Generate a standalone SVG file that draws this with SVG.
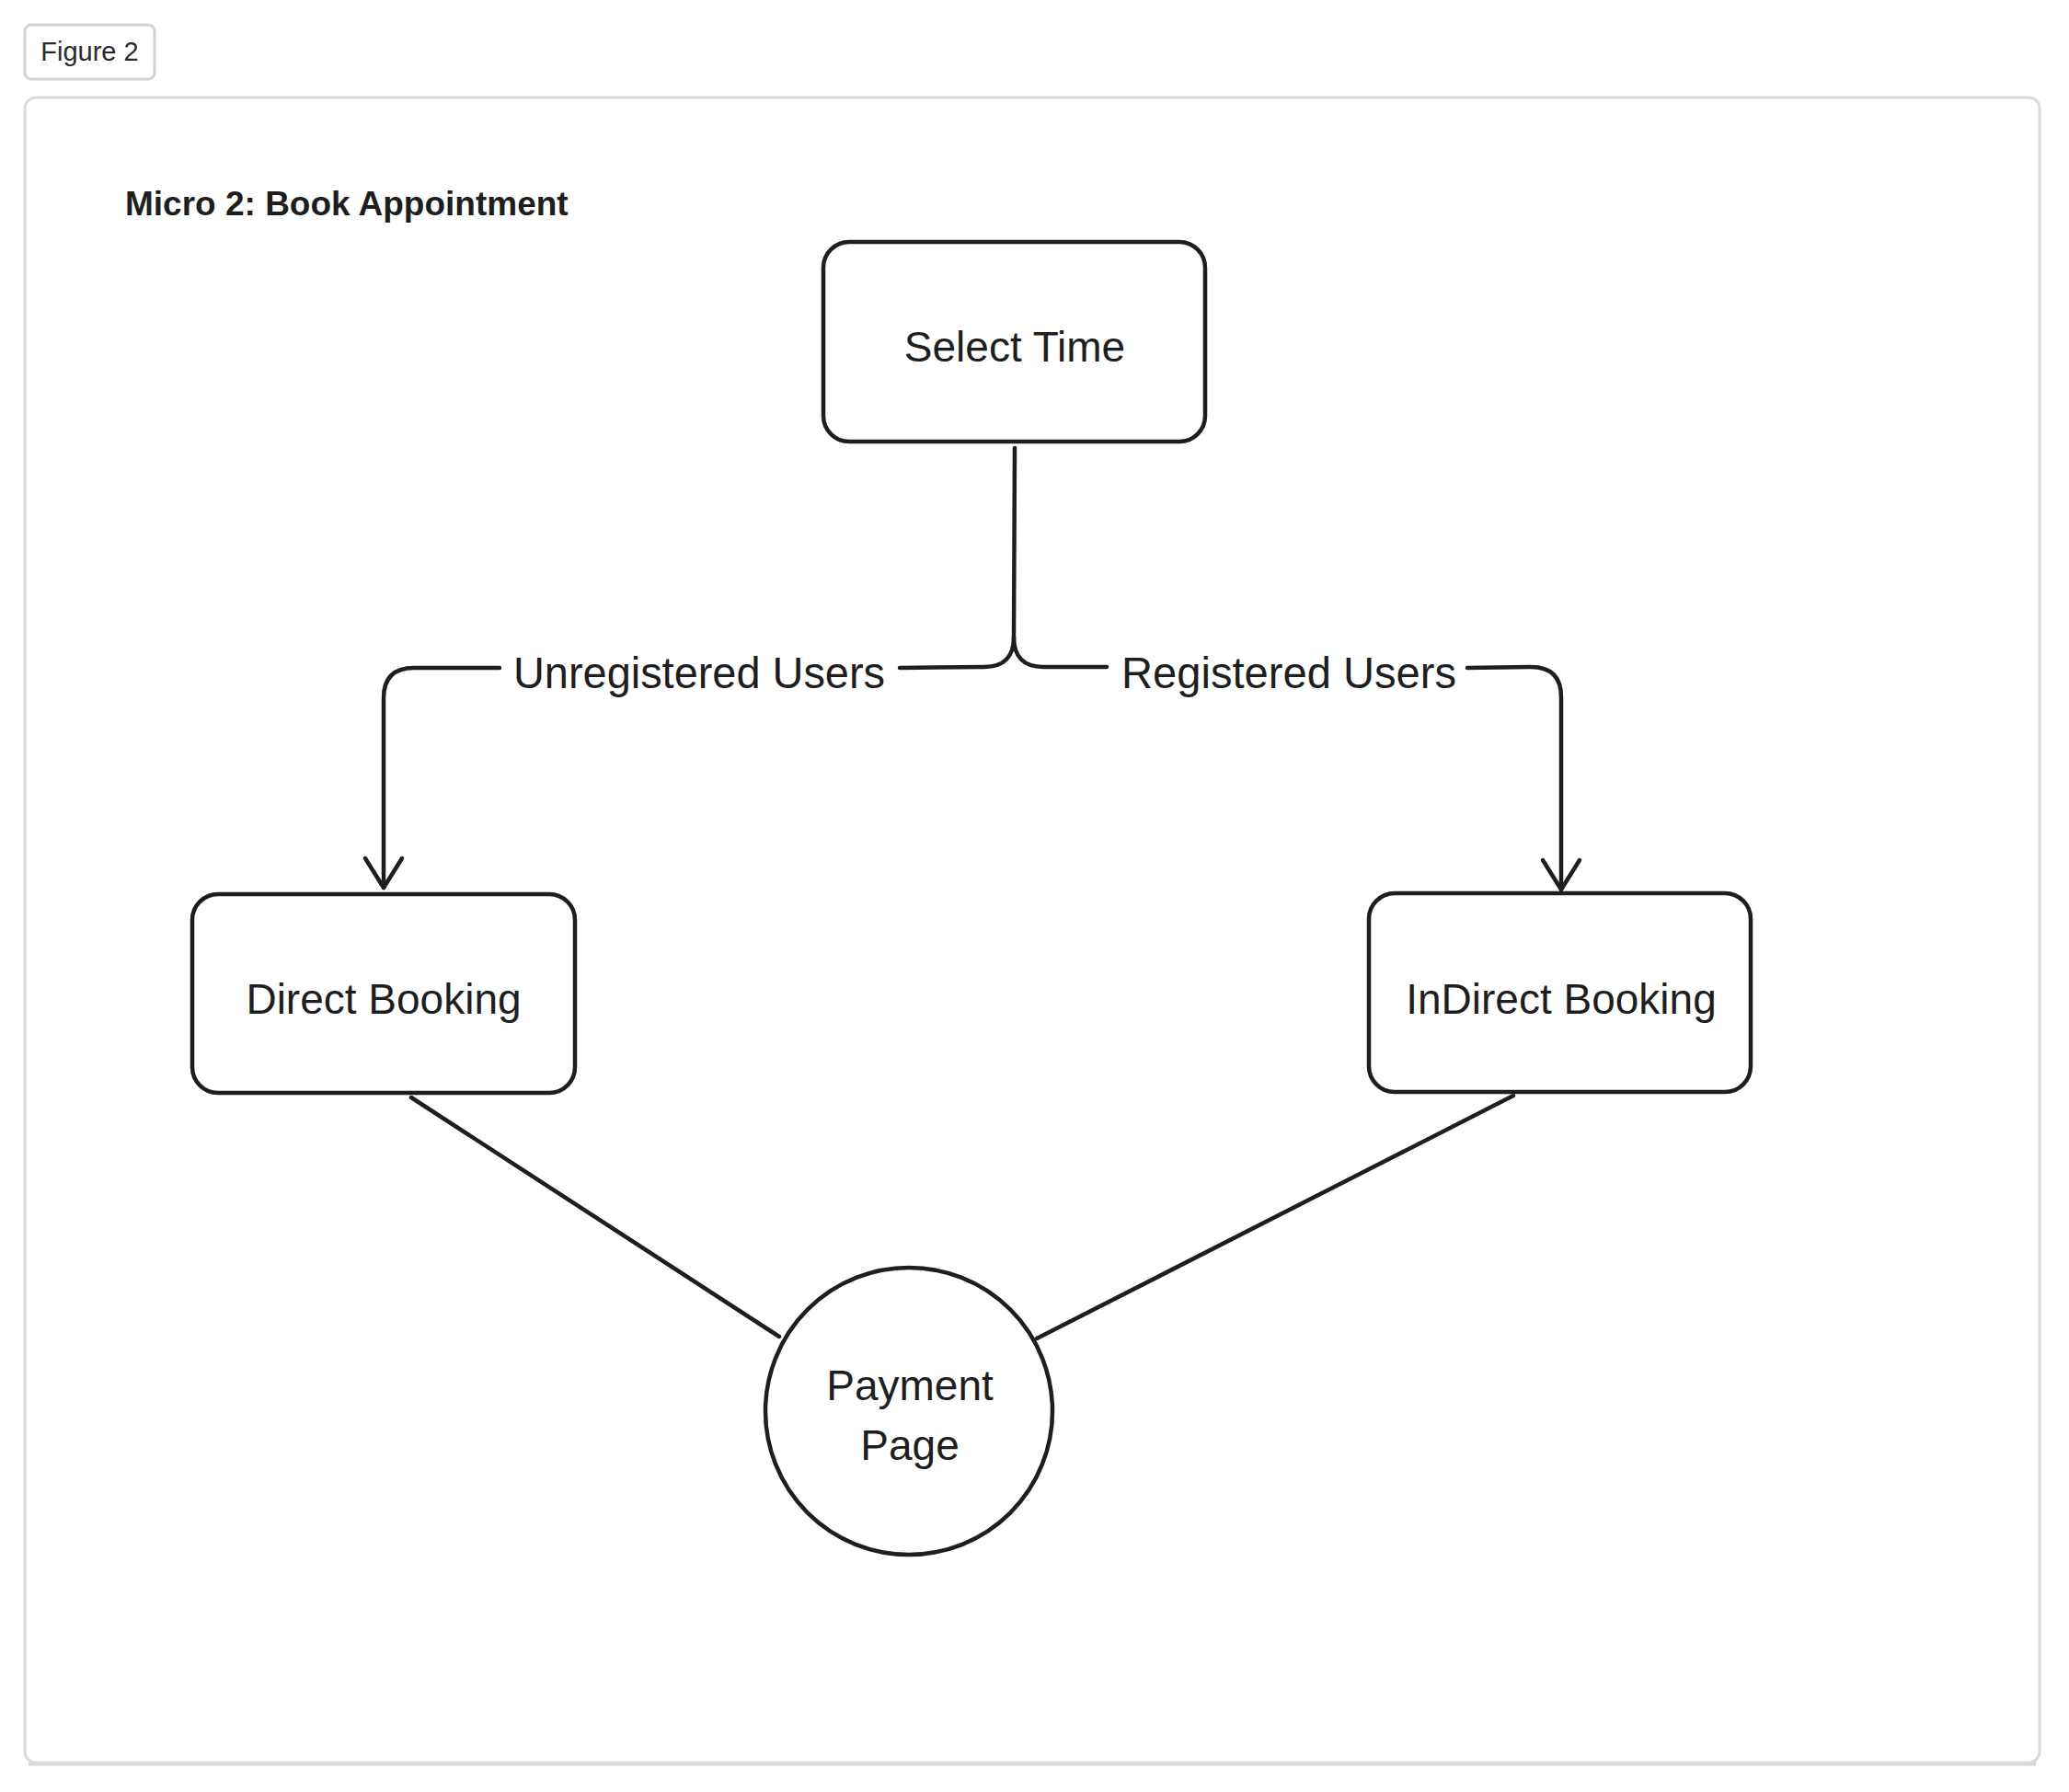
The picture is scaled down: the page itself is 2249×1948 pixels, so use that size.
<svg xmlns="http://www.w3.org/2000/svg" width="2249" height="1948" viewBox="0 0 2249 1948">
  <style>
    .node { fill: #ffffff; stroke: #1e1e1e; stroke-width: 4.5; }
    .conn { fill: none; stroke: #1e1e1e; stroke-width: 4.5; stroke-linecap: round; stroke-linejoin: round; }
    .label { font-family: "Liberation Sans", Arial, sans-serif; font-size: 46px; fill: #1e1e1e; text-anchor: middle; }
    .elabel { font-family: "Liberation Sans", Arial, sans-serif; font-size: 48px; fill: #1e1e1e; }
  </style>
  <defs>
    <marker id="arrow" markerUnits="userSpaceOnUse" viewBox="-40 -25 50 50" markerWidth="50" markerHeight="50" refX="0" refY="0" orient="auto">
      <path d="M-32,-20 L0,0 L-32,20" fill="none" stroke="#1e1e1e" stroke-width="4.5" stroke-linecap="round" stroke-linejoin="round"/>
    </marker>
  </defs>
  <rect width="2249" height="1948" fill="#ffffff"/>

  <g id="figure-tag">
    <rect x="27" y="27" width="141" height="59" rx="7" fill="#ffffff" stroke="#d2d2d2" stroke-width="3"/>
    <text x="97.5" y="66" font-family="Liberation Sans, Arial, sans-serif" font-size="29" fill="#2a2a2a" text-anchor="middle">Figure 2</text>
  </g>

  <g id="frame">
    <line x1="31" y1="1917" x2="2213" y2="1917" stroke="#d6d8dc" stroke-width="5"/>
    <rect x="27" y="106" width="2190" height="1810" rx="12" fill="#ffffff" stroke="#dadada" stroke-width="3"/>
  </g>

  <g id="title">
    <text x="136" y="234" font-family="Liberation Sans, Arial, sans-serif" font-size="37" font-weight="bold" fill="#1e1e1e">Micro 2: Book Appointment</text>
  </g>

  <g id="connectors">
    <path class="conn" d="M1103,487 L1102,693"/>
    <path class="conn" d="M1102,693 C1102,713 1092,725 1070,725 L978,726"/>
    <path class="conn" d="M543,726 L450,726 Q417,726 417,759 L417,965" marker-end="url(#arrow)"/>
    <path class="conn" d="M1102,693 C1102,713 1112,725 1134,725 L1203,725"/>
    <path class="conn" d="M1595,726 L1664,725 Q1697,725 1697,758 L1697,967" marker-end="url(#arrow)"/>
    <path class="conn" d="M447,1193 L847,1453"/>
    <path class="conn" d="M1645,1191 L1127,1455"/>
    <text class="elabel" x="558" y="748" textLength="404" lengthAdjust="spacingAndGlyphs">Unregistered Users</text>
    <text class="elabel" x="1219" y="748" textLength="364" lengthAdjust="spacingAndGlyphs">Registered Users</text>
  </g>

  <g id="select-time">
    <rect class="node" x="895" y="263" width="415" height="217" rx="28"/>
    <text class="label" x="1103" y="393">Select Time</text>
  </g>

  <g id="direct-booking">
    <rect class="node" x="209" y="972" width="416" height="216" rx="28"/>
    <text class="label" x="417" y="1102">Direct Booking</text>
  </g>

  <g id="indirect-booking">
    <rect class="node" x="1488" y="971" width="415" height="216" rx="28"/>
    <text class="label" x="1697" y="1102">InDirect Booking</text>
  </g>

  <g id="payment-page">
    <circle class="node" cx="988" cy="1534" r="156"/>
    <text class="label" x="989" y="1522">Payment</text>
    <text class="label" x="989" y="1587">Page</text>
  </g>
</svg>
